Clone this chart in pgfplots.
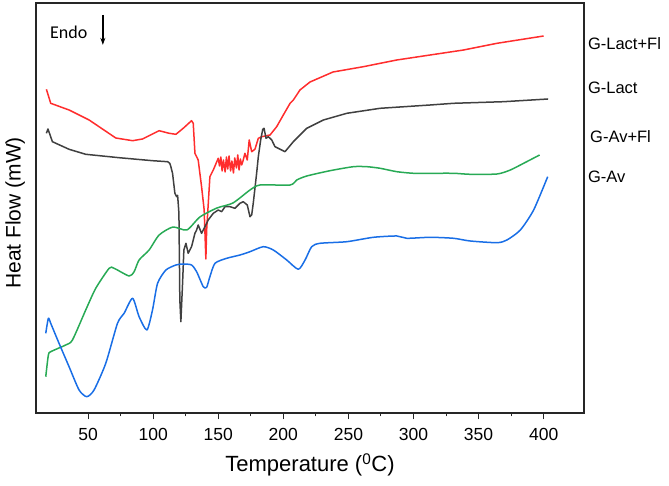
\documentclass[border=0pt]{standalone}
\usepackage{pgfplots}
\pgfplotsset{compat=1.18}
\usetikzlibrary{arrows.meta}
\usepackage{fontspec}
\setmainfont{Liberation Sans}
\newfontfamily\endofont{Carlito}
\definecolor{cred}{RGB}{255,45,45}
\definecolor{cgray}{RGB}{64,64,64}
\definecolor{cgreen}{RGB}{40,170,85}
\definecolor{cblue}{RGB}{25,110,230}
\begin{document}
\begin{tikzpicture}
\path[use as bounding box] (-36pt,-73pt) rectangle (633pt,413pt);
\begin{axis}[
  at={(0,0)}, anchor=south west,
  scale only axis, width=548pt, height=410pt,
  xmin=10, xmax=431, ymin=-413, ymax=-3,
  xtick={50,100,...,400}, minor x tick num=1,
  ytick=\empty,
  xtick pos=bottom, tick align=outside,
  major tick length=6.5pt, minor tick length=3.5pt,
  axis line style={line width=1.1pt, black!85},
  every tick/.style={line width=1pt, black!85},
  /pgf/number format/assume math mode=true,
  xticklabel style={font=\fontsize{17.5}{20}\selectfont, yshift=-5pt},
  xlabel={Temperature (\textsuperscript{0}C)},
  ylabel={Heat Flow (mW)},
  xlabel style={font=\fontsize{22}{26}\selectfont, at={(axis description cs:0.5,-0.127)}, anchor=center},
  ylabel style={font=\fontsize{21}{25}\selectfont, at={(axis description cs:-0.038,0.488)}, anchor=center, rotate=0},
  clip=false,
  every axis plot/.append style={line width=1.5pt, line join=round},
]
% G-Lact+Fl
\addplot[cred] coordinates {
(18.0,-89.3)(21.3,-103.3)(35.4,-110)(50.8,-120)(71.3,-138)(84.2,-140.7)(91.8,-139)
(104.6,-130.7)(112.3,-133.3)(117.5,-134.3)(123.1,-128.3)(129.5,-120.7)(130.8,-123.3)
(132.1,-153.3)(134.6,-160)(137.2,-186.7)(139.2,-210)(140.5,-259)(141.1,-230)(143.6,-176.7)
(146.2,-170)(150.0,-158.3)(151.0,-166)(152.0,-157)(153.0,-171)(154.0,-160)(155.3,-172)
(156.3,-157)(157.3,-169)(158.3,-156)(159.5,-171)(160.5,-161)(161.7,-173)(162.7,-158)
(164.0,-168)(165.0,-155)(166.0,-170)(167.0,-159)(168.0,-165)(169.0,-161)(170.5,-153.3)
(172.3,-160)(173.8,-140)(175.7,-151.7)(178.2,-149.3)(180.8,-138.3)(183.4,-136.7)
(189.8,-135)(194.9,-126.7)(200.0,-115)(205.2,-103.3)(207.7,-100)(212.8,-90)(220.5,-82)
(238.2,-72)(261.5,-66.7)(287.2,-60)(312.8,-55)(338.5,-50)(364.2,-43.3)(400.0,-36)
};
% G-Lact
\addplot[cgray] coordinates {
(18.0,-133.3)(19.2,-129)(22.6,-141.7)(35.4,-149.3)(48.2,-154.3)(73.8,-157.7)(99.5,-160.7)
(111.1,-161.7)(112.8,-163.3)(113.6,-166.7)(114.9,-173.3)(116.7,-193.3)(118.0,-196.7)
(118.8,-195.3)(119.8,-213.3)(120.5,-300)(121.3,-321.7)(122.6,-283.3)(123.6,-250)
(125.2,-243.3)(126.9,-253.3)(129.5,-246.7)(132.1,-233.3)(133.4,-230)(134.6,-225)
(137.2,-233.3)(139.8,-226.7)(142.3,-220)(146.2,-213.3)(150,-210)(152.6,-211.7)
(155.2,-206.7)(159.0,-206.7)(162.8,-208.3)(166.7,-203.3)(169.2,-201.7)(172.3,-205)
(174.4,-216.7)(175.7,-215)(176.9,-203.3)(179.5,-173.3)(180.8,-156.7)(182.6,-140)
(184.2,-129.3)(185.2,-128.3)(186.7,-138.3)(188.5,-136.7)(191.1,-140)(193.6,-146.7)
(201.3,-151.7)(207.7,-141.7)(218.0,-128.3)(230.8,-120)(248.8,-113.3)(274.4,-108.3)
(312.8,-105)(330.8,-103.3)(369.2,-101.7)(403.4,-99)
};
% G-Av+Fl
\addplot[cgreen, smooth, tension=0.4] coordinates {
(17.5,-376.7)(19.5,-355)(21.3,-351.7)(32.8,-345)(38.0,-340)(48.2,-310)(55.9,-288.3)
(66.2,-268.3)(70.0,-268.3)(81.5,-276)(85.4,-271.7)(89.2,-260)(96.9,-250)(104.6,-235)
(115.2,-227)(125.9,-230)(135.9,-217)(149.0,-208)(161.3,-203)(174.4,-190)(182.1,-185)
(205.2,-185)(210.3,-180)(218.0,-176)(235.9,-170.7)(253.8,-166.7)(264.2,-166.7)
(274.4,-168.3)(287.2,-171.7)(300,-173.3)(312.8,-173.3)(330.8,-173.3)(343.6,-174.3)
(364.2,-174)(374.4,-170)(384.6,-163.3)(396.9,-155)
};
% G-Av
\addplot[cblue, smooth, tension=0.4] coordinates {
(17.5,-333.3)(19.5,-318.3)(21.3,-323.3)(27.7,-343.3)(35.4,-366.7)(43.1,-390)(49.0,-396.7)
(54.6,-390)(63.6,-363.3)(72.6,-323.3)(77.7,-313.3)(84.2,-298.3)(89.2,-316.7)(95.2,-330)
(99.5,-310)(103.4,-283.3)(109.8,-270)(117.5,-265)(123.1,-264)(129.5,-265)(133.4,-271.7)
(138.5,-286.7)(141.1,-287.3)(143.6,-276.7)(147.5,-263.3)(156.5,-258.3)(166.7,-255)
(174.4,-251.7)(184.6,-246.7)(192.3,-250)(202.6,-260)(211.5,-269.3)(216.7,-260)
(221.8,-246.7)(228.2,-243.3)(248.8,-241.7)(269.2,-237.3)(287.2,-236)(294.9,-238.3)
(312.8,-237.3)(330.8,-238.3)(343.6,-241)(364.2,-242.7)(371.8,-240)(382.1,-230)
(392.3,-210)(403.1,-176.7)
};
\node[anchor=west, font=\fontsize{16.5}{19}\selectfont, inner sep=0pt] at (axis description cs:1.007,0.902) {G-Lact+Fl};
\node[anchor=west, font=\fontsize{16.5}{19}\selectfont, inner sep=0pt] at (axis description cs:1.007,0.793) {G-Lact};
\node[anchor=west, font=\fontsize{16.5}{19}\selectfont, inner sep=0pt] at (axis description cs:1.011,0.673) {G-Av+Fl};
\node[anchor=west, font=\fontsize{16.5}{19}\selectfont, inner sep=0pt] at (axis description cs:1.007,0.576) {G-Av};
\node[anchor=west, font=\endofont\fontsize{18}{21}\selectfont, inner sep=0pt] at (axis description cs:0.0255,0.929) {Endo};
\draw[-{Stealth[length=7pt,width=5pt]}, line width=1.3pt] (axis description cs:0.122,0.971) -- (axis description cs:0.122,0.898);
\end{axis}
\end{tikzpicture}
\end{document}
